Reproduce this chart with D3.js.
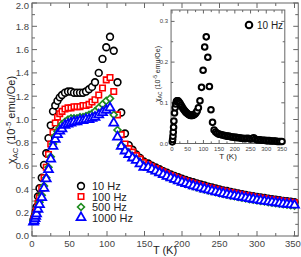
<!DOCTYPE html>
<html>
<head>
<meta charset="utf-8">
<script src="https://cdn.jsdelivr.net/npm/d3@7"></script>
<style>
  body { margin: 0; background: #fff; }
  svg { display: block; font-family: "Liberation Sans", Arial, sans-serif; }
  .tick text { fill: #444; }
</style>
</head>
<body>
<div id="chart"></div>
<script>
// temperatures (K), shared by all four frequencies in the main panel
const temps = [2, 3, 4, 5, 6, 8, 10, 13, 16, 19, 22, 25, 28, 31, 34, 37, 40, 44, 48, 52, 56, 60, 64, 68, 72, 76, 80, 84, 89, 94, 99, 104, 109, 114, 119, 124, 129, 134, 139, 144, 149,
  155, 160, 165, 170, 175, 180, 185, 190, 195, 200, 205, 210, 215, 220, 225, 230, 235, 240, 245, 250, 255, 260, 265, 270, 275, 280, 285, 290, 295, 300, 305, 310, 315, 320, 325, 330, 335, 340, 345, 350];

const chi10 = [0.14, 0.16, 0.18, 0.21, 0.25, 0.34, 0.41, 0.50, 0.61, 0.71, 0.84, 0.95, 1.07, 1.12, 1.16, 1.19, 1.21, 1.23, 1.24, 1.24, 1.23, 1.23, 1.23, 1.23, 1.24, 1.26, 1.28, 1.32, 1.40, 1.52, 1.62, 1.71, 1.59, 1.32, 1.06, 0.88, 0.78, 0.74, 0.70, 0.67, 0.64,
  0.622, 0.604, 0.588, 0.573, 0.557, 0.543, 0.529, 0.516, 0.504, 0.492, 0.481, 0.470, 0.461, 0.451, 0.442, 0.433, 0.424, 0.416, 0.408, 0.400, 0.392, 0.386, 0.378, 0.372, 0.366, 0.360, 0.353, 0.347, 0.342, 0.336, 0.331, 0.326, 0.321, 0.316, 0.312, 0.307, 0.302, 0.298, 0.294, 0.290];

const chi100 = [0.14, 0.15, 0.17, 0.19, 0.22, 0.28, 0.33, 0.41, 0.50, 0.59, 0.70, 0.79, 0.89, 0.97, 1.02, 1.05, 1.07, 1.09, 1.10, 1.10, 1.11, 1.11, 1.11, 1.12, 1.12, 1.13, 1.15, 1.17, 1.21, 1.27, 1.34, 1.36, 1.24, 1.04, 0.87, 0.79, 0.75, 0.72, 0.69, 0.66, 0.63,
  0.612, 0.595, 0.578, 0.563, 0.548, 0.533, 0.520, 0.507, 0.495, 0.483, 0.472, 0.462, 0.452, 0.443, 0.434, 0.425, 0.417, 0.409, 0.401, 0.393, 0.386, 0.379, 0.372, 0.366, 0.360, 0.354, 0.348, 0.342, 0.336, 0.331, 0.326, 0.321, 0.316, 0.311, 0.307, 0.302, 0.298, 0.293, 0.289, 0.285];

const chi500 = [0.13, 0.14, 0.16, 0.18, 0.20, 0.25, 0.29, 0.35, 0.43, 0.50, 0.59, 0.68, 0.79, 0.86, 0.90, 0.93, 0.96, 0.98, 1.00, 1.01, 1.01, 1.01, 1.02, 1.02, 1.03, 1.04, 1.05, 1.07, 1.10, 1.13, 1.16, 1.18, 1.04, 0.91, 0.78, 0.74, 0.71, 0.68, 0.66, 0.63, 0.60,
  0.585, 0.568, 0.552, 0.537, 0.522, 0.508, 0.494, 0.482, 0.470, 0.458, 0.447, 0.437, 0.427, 0.418, 0.409, 0.400, 0.392, 0.384, 0.376, 0.368, 0.361, 0.354, 0.347, 0.341, 0.335, 0.329, 0.323, 0.317, 0.312, 0.306, 0.301, 0.296, 0.291, 0.287, 0.282, 0.278, 0.273, 0.269, 0.265, 0.261];

const chi1000 = [0.12, 0.13, 0.15, 0.17, 0.19, 0.23, 0.27, 0.33, 0.41, 0.49, 0.57, 0.66, 0.77, 0.83, 0.87, 0.90, 0.92, 0.95, 0.96, 0.97, 0.98, 0.98, 0.99, 0.99, 1.00, 1.00, 1.01, 1.02, 1.04, 1.06, 1.08, 1.10, 0.97, 0.85, 0.77, 0.73, 0.70, 0.67, 0.65, 0.62, 0.59,
  0.590, 0.573, 0.557, 0.542, 0.527, 0.513, 0.499, 0.486, 0.474, 0.462, 0.451, 0.441, 0.431, 0.422, 0.413, 0.404, 0.396, 0.388, 0.380, 0.372, 0.365, 0.358, 0.351, 0.345, 0.339, 0.333, 0.327, 0.321, 0.316, 0.310, 0.305, 0.300, 0.295, 0.291, 0.286, 0.282, 0.277, 0.273, 0.269, 0.265];

const freqLabels = ['10 Hz', '100 Hz', '500 Hz', '1000 Hz'];

// inset: 10 Hz curve
const insetTemps = [1, 2, 3, 4, 5, 6, 8, 10, 12, 14, 16, 18, 20, 23, 26, 29, 32, 35, 38, 41, 44, 47, 50, 53, 56, 59, 62, 65, 68, 71, 74, 77, 80, 84, 89, 94, 99, 104, 109, 114, 119, 124, 129, 134, 139, 144, 149,
  155, 160, 165, 170, 175, 180, 185, 190, 195, 200, 205, 210, 215, 220, 225, 230, 235, 240, 245, 250, 255, 260, 265, 270, 275, 280, 285, 290, 295, 300, 305, 310, 315, 320, 325, 330, 335, 340, 345, 350];
const insetChi = [0.004, 0.010, 0.018, 0.028, 0.040, 0.055, 0.075, 0.088, 0.097, 0.103, 0.105, 0.105, 0.104, 0.101, 0.098, 0.094, 0.090, 0.086, 0.083, 0.080, 0.077, 0.075, 0.073, 0.071, 0.070, 0.069, 0.069, 0.069, 0.070, 0.071, 0.073, 0.076, 0.080, 0.088, 0.105, 0.138, 0.180, 0.237, 0.262, 0.212, 0.140, 0.083, 0.052, 0.033, 0.028, 0.025, 0.023,
  0.022, 0.021, 0.020, 0.019, 0.018, 0.018, 0.017, 0.016, 0.016, 0.015, 0.015, 0.014, 0.014, 0.013, 0.013, 0.012, 0.012, 0.013, 0.012, 0.011, 0.012, 0.014, 0.011, 0.009, 0.009, 0.009, 0.008, 0.008, 0.008, 0.007, 0.007, 0.007, 0.006, 0.006, 0.006, 0.006, 0.005, 0.005, 0.005, 0.005];
const insetLegend = '10 Hz';

const width = 301, height = 257;
const svg = d3.select('#chart').append('svg')
  .attr('width', width)
  .attr('height', height);

const axisColor = '#666';

// ---------- main panel ----------
const x = d3.scaleLinear().domain([0, 355]).range([32, 298.25]);
const y = d3.scaleLinear().domain([0, 2.0]).range([236, 3]);

function frameAxes(g, xs, ys, opt) {
  const [x0, x1] = xs.range();
  const [y0, y1] = ys.range();
  const majX = d3.range(opt.xMin, opt.xMax + 1e-9, opt.xStep);
  const minX = d3.range(opt.xMin, opt.xMax + 1e-9, opt.xStep / 2);
  const majY = d3.range(0, opt.yMax + 1e-9, opt.yStep);
  const minY = d3.range(0, ys.domain()[1] + 1e-9, opt.yStep / 2);
  const L = opt.tick, l = opt.tick * 0.6;

  g.append('rect')
    .attr('x', x0).attr('y', y1)
    .attr('width', x1 - x0).attr('height', y0 - y1)
    .attr('fill', '#fff').attr('stroke', axisColor).attr('stroke-width', 1);

  const ticks = g.append('g').attr('stroke', axisColor).attr('stroke-width', 1);
  minX.forEach(v => {
    const len = majX.some(m => Math.abs(m - v) < 1e-9) ? L : l;
    ticks.append('line').attr('x1', xs(v)).attr('x2', xs(v)).attr('y1', y0).attr('y2', y0 - len);
    ticks.append('line').attr('x1', xs(v)).attr('x2', xs(v)).attr('y1', y1).attr('y2', y1 + len);
  });
  minY.forEach(v => {
    const len = majY.some(m => Math.abs(m - v) < 1e-9) ? L : l;
    ticks.append('line').attr('y1', ys(v)).attr('y2', ys(v)).attr('x1', x0).attr('x2', x0 + len);
    ticks.append('line').attr('y1', ys(v)).attr('y2', ys(v)).attr('x1', x1).attr('x2', x1 - len);
  });

  g.append('g').attr('class', 'tick')
    .selectAll('text').data(majX).join('text')
    .attr('x', d => Math.min(xs(d), width - opt.font * 0.85)).attr('y', y0 + opt.font + 1)
    .attr('text-anchor', 'middle').attr('font-size', opt.font)
    .text(d => d);
  g.append('g').attr('class', 'tick')
    .selectAll('text').data(majY).join('text')
    .attr('x', x0 - 3).attr('y', d => Math.max(ys(d) + opt.font * 0.35, opt.font * 0.95))
    .attr('text-anchor', 'end').attr('font-size', opt.font)
    .text(d => d3.format('.1f')(d));
}

const main = svg.append('g');
frameAxes(main, x, y, { xMin: 0, xMax: 350, xStep: 50, yMax: 2.0, yStep: 0.2, tick: 5, font: 9.5 });

// axis labels
svg.append('text')
  .attr('x', 165).attr('y', 254)
  .attr('text-anchor', 'middle').attr('font-size', 11).attr('fill', '#222')
  .text('T (K)');

function chiLabel(sel, size) {
  sel.append('tspan').text('\u03c7');
  sel.append('tspan').attr('font-size', size * 0.7).attr('dy', size * 0.3).text('AC');
  sel.append('tspan').attr('dy', -size * 0.3).text(' (10');
  sel.append('tspan').attr('font-size', size * 0.7).attr('dy', -size * 0.4).text('-5');
  sel.append('tspan').attr('dy', size * 0.4).text(' emu/Oe)');
}
const yl = svg.append('text')
  .attr('transform', 'translate(15,120) rotate(-90)')
  .attr('text-anchor', 'middle').attr('font-size', 11).attr('fill', '#222');
chiLabel(yl, 11);

// series
const rows = temps.map((t, i) => ({ t, c10: chi10[i], c100: chi100[i], c500: chi500[i], c1000: chi1000[i] }));

const series = [
  { key: 'c10', color: '#000', shape: 'circle' },
  { key: 'c100', color: '#f00', shape: 'square' },
  { key: 'c500', color: '#1e8c1e', shape: 'diamond' },
  { key: 'c1000', color: '#0000ff', shape: 'triangle' }
];

const symbolFor = {
  circle: d3.symbol().type(d3.symbolCircle).size(36),
  square: d3.symbol().type(d3.symbolSquare).size(30),
  diamond: d3.symbol().type(d3.symbolSquare).size(24),
  triangle: d3.symbol().type(d3.symbolTriangle).size(34)
};

function drawMarker(g, s, px, py) {
  g.append('path')
    .attr('d', symbolFor[s.shape]())
    .attr('transform', `translate(${px},${py})` + (s.shape === 'diamond' ? ' rotate(45)' : ''))
    .attr('fill', '#fff')
    .attr('stroke', s.color)
    .attr('stroke-width', s.shape === 'triangle' ? 1.8 : 1.6);
}

const dataG = main.append('g');
series.forEach(s => {
  const g = dataG.append('g');
  rows.forEach(d => drawMarker(g, s, x(d.t), y(d[s.key])));
});

// legend
const legend = svg.append('g');
series.forEach((s, i) => {
  const ly = 186 + i * 10.5;
  drawMarker(legend, s, 81, ly);
  legend.append('text')
    .attr('x', 92).attr('y', ly + 4)
    .attr('font-size', 11).attr('fill', '#222')
    .text(freqLabels[i]);
});

// ---------- inset ----------
const ix = d3.scaleLinear().domain([-3, 359]).range([171.06, 284.8]);
const iy = d3.scaleLinear().domain([0, 0.328]).range([143.5, 10]);

const inset = svg.append('g');
frameAxes(inset, ix, iy, { xMin: 0, xMax: 350, xStep: 50, yMax: 0.3, yStep: 0.1, tick: 3.5, font: 6 });

inset.append('g')
  .selectAll('circle')
  .data(insetTemps.map((t, i) => ({ t, c: insetChi[i] })))
  .join('circle')
  .attr('cx', d => ix(d.t))
  .attr('cy', d => iy(d.c))
  .attr('r', 2.8)
  .attr('fill', '#fff')
  .attr('stroke', '#000')
  .attr('stroke-width', 2);

inset.append('circle')
  .attr('cx', 249).attr('cy', 25).attr('r', 3.3)
  .attr('fill', '#fff').attr('stroke', '#000').attr('stroke-width', 2);
inset.append('text')
  .attr('x', 257).attr('y', 29)
  .attr('font-size', 10).attr('fill', '#222')
  .text(insetLegend);

inset.append('text')
  .attr('x', 228).attr('y', 159)
  .attr('text-anchor', 'middle').attr('font-size', 8).attr('fill', '#222')
  .text('T (K)');
const iyl = inset.append('text')
  .attr('transform', 'translate(160,74) rotate(-90)')
  .attr('text-anchor', 'middle').attr('font-size', 7).attr('fill', '#222');
chiLabel(iyl, 7);
</script>
</body>
</html>
